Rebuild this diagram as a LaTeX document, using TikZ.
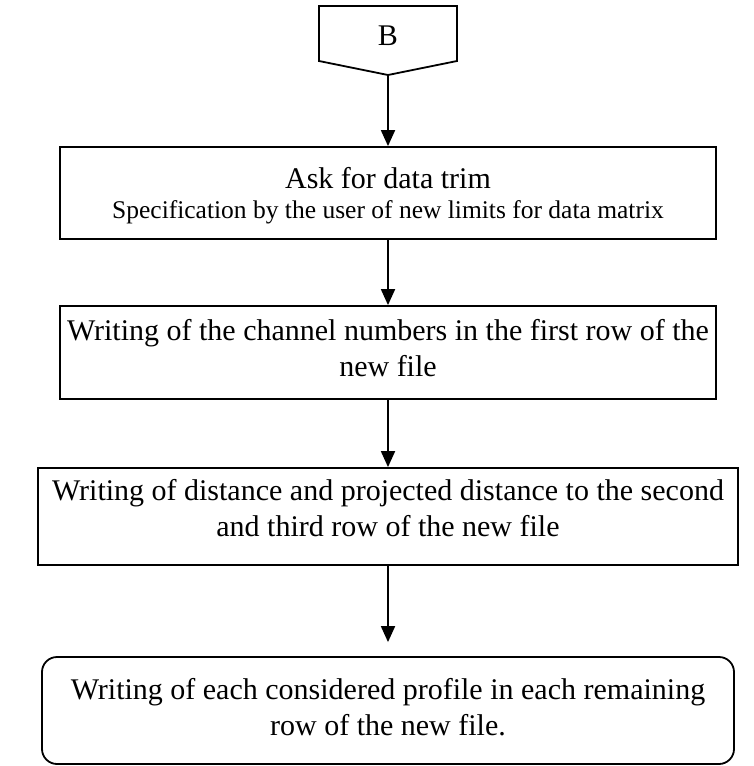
\documentclass[tikz,border=0pt]{standalone}
\usepackage{fontspec}
\setmainfont{Liberation Serif}
\usetikzlibrary{arrows.meta}
\tikzset{
  stepbox/.style={draw, line width=1.8pt, inner sep=0pt},
  bigtxt/.style={anchor=base, inner sep=0pt, font=\fontsize{30}{36}\selectfont},
  smalltxt/.style={anchor=base, inner sep=0pt, font=\fontsize{25.5}{30}\selectfont},
  flowarrow/.style={line width=1.8pt, -{Triangle[length=16pt,width=14pt]}}
}
\begin{document}
\begin{tikzpicture}[x=1pt,y=-1pt]
  \useasboundingbox (0,0) rectangle (754,766);
  % off-page connector B
  \coordinate (tip) at (388,75);
  \draw[line width=1.8pt, line join=miter] (319,6) -- (457,6) -- (457,61) -- (tip) -- (319,61) -- cycle;
  \node[bigtxt] (B) at (388,45) {B};
  % process steps
  \node[stepbox, minimum width=656pt, minimum height=92pt] (trim) at (388,193) {};
  \node[bigtxt] (trimA) at (388,188) {Ask for data trim};
  \node[smalltxt] (trimB) at (388,218) {Specification by the user of new limits for data matrix};

  \node[stepbox, minimum width=656pt, minimum height=93pt] (chan) at (388,352.5) {};
  \node[bigtxt] (chanA) at (388,340) {Writing of the channel numbers in the first row of the};
  \node[bigtxt] (chanB) at (388,376) {new file};

  \node[stepbox, minimum width=700pt, minimum height=97pt] (dist) at (388,516.5) {};
  \node[bigtxt] (distA) at (388,500) {Writing of distance and projected distance to the second};
  \node[bigtxt] (distB) at (388,536) {and third row of the new file};

  \node[stepbox, rounded corners=15pt, minimum width=692pt, minimum height=107pt] (prof) at (388,710.5) {};
  \node[bigtxt] (profA) at (388,699) {Writing of each considered profile in each remaining};
  \node[bigtxt] (profB) at (388,735) {row of the new file.};
  % connectors
  \draw[flowarrow] (tip) -- (trim.north -| tip);
  \draw[flowarrow] (trim.south -| tip) -- (chan.north -| tip);
  \draw[flowarrow] (chan.south -| tip) -- (dist.north -| tip);
  \draw[flowarrow, shorten >=14pt] (dist.south -| tip) -- (prof.north -| tip);
\end{tikzpicture}
\end{document}
